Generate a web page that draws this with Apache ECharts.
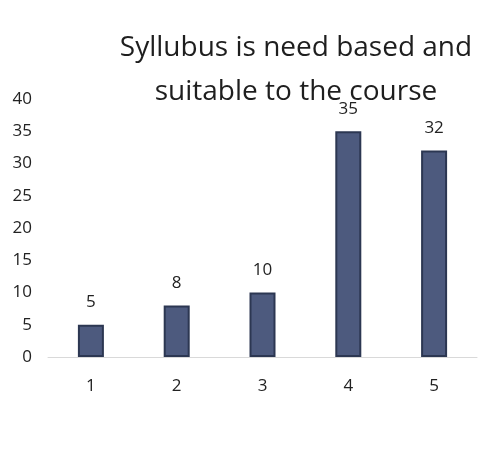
<!DOCTYPE html>
<html>
<head>
<meta charset="utf-8">
<script src="https://cdn.jsdelivr.net/npm/echarts@6/dist/echarts.min.js"></script>
<style>
  html, body { margin: 0; padding: 0; background: #fff; }
  #chart { width: 482px; height: 475px; }
</style>
</head>
<body>
<div id="chart"></div>
<script>
const categories = ['1', '2', '3', '4', '5']
const counts = [5, 8, 10, 35, 32]
const titleLines = ['Syllubus is need based and', 'suitable to the course']

const chart = echarts.init(document.getElementById('chart'))
chart.setOption({
  animation: false,
  textStyle: { fontFamily: 'Open Sans' },
  title: {
    text: titleLines.join('\n'),
    left: 291,
    top: 21,
    textAlign: 'center',
    textStyle: {
      fontFamily: 'Open Sans',
      fontSize: 28,
      fontWeight: 'normal',
      color: '#1e1e1e',
      lineHeight: 44
    }
  },
  grid: { left: 48, right: 5, top: 99, bottom: 118 },
  xAxis: {
    type: 'category',
    data: categories,
    axisLine: { lineStyle: { color: '#d9d9d9' } },
    axisTick: { show: false },
    axisLabel: { color: '#222', fontSize: 17, margin: 21 }
  },
  yAxis: {
    type: 'value',
    min: 0,
    max: 40,
    interval: 5,
    splitLine: { show: false },
    axisLine: { show: false },
    axisTick: { show: false },
    axisLabel: { color: '#222', fontSize: 17, margin: 16 }
  },
  series: [
    {
      type: 'bar',
      data: counts,
      barWidth: 26,
      itemStyle: {
        color: '#4d5a7e',
        borderColor: '#2c3752',
        borderWidth: 2
      },
      label: {
        show: true,
        position: 'top',
        distance: 14,
        color: '#222',
        fontSize: 17
      }
    }
  ]
})
</script>
</body>
</html>
